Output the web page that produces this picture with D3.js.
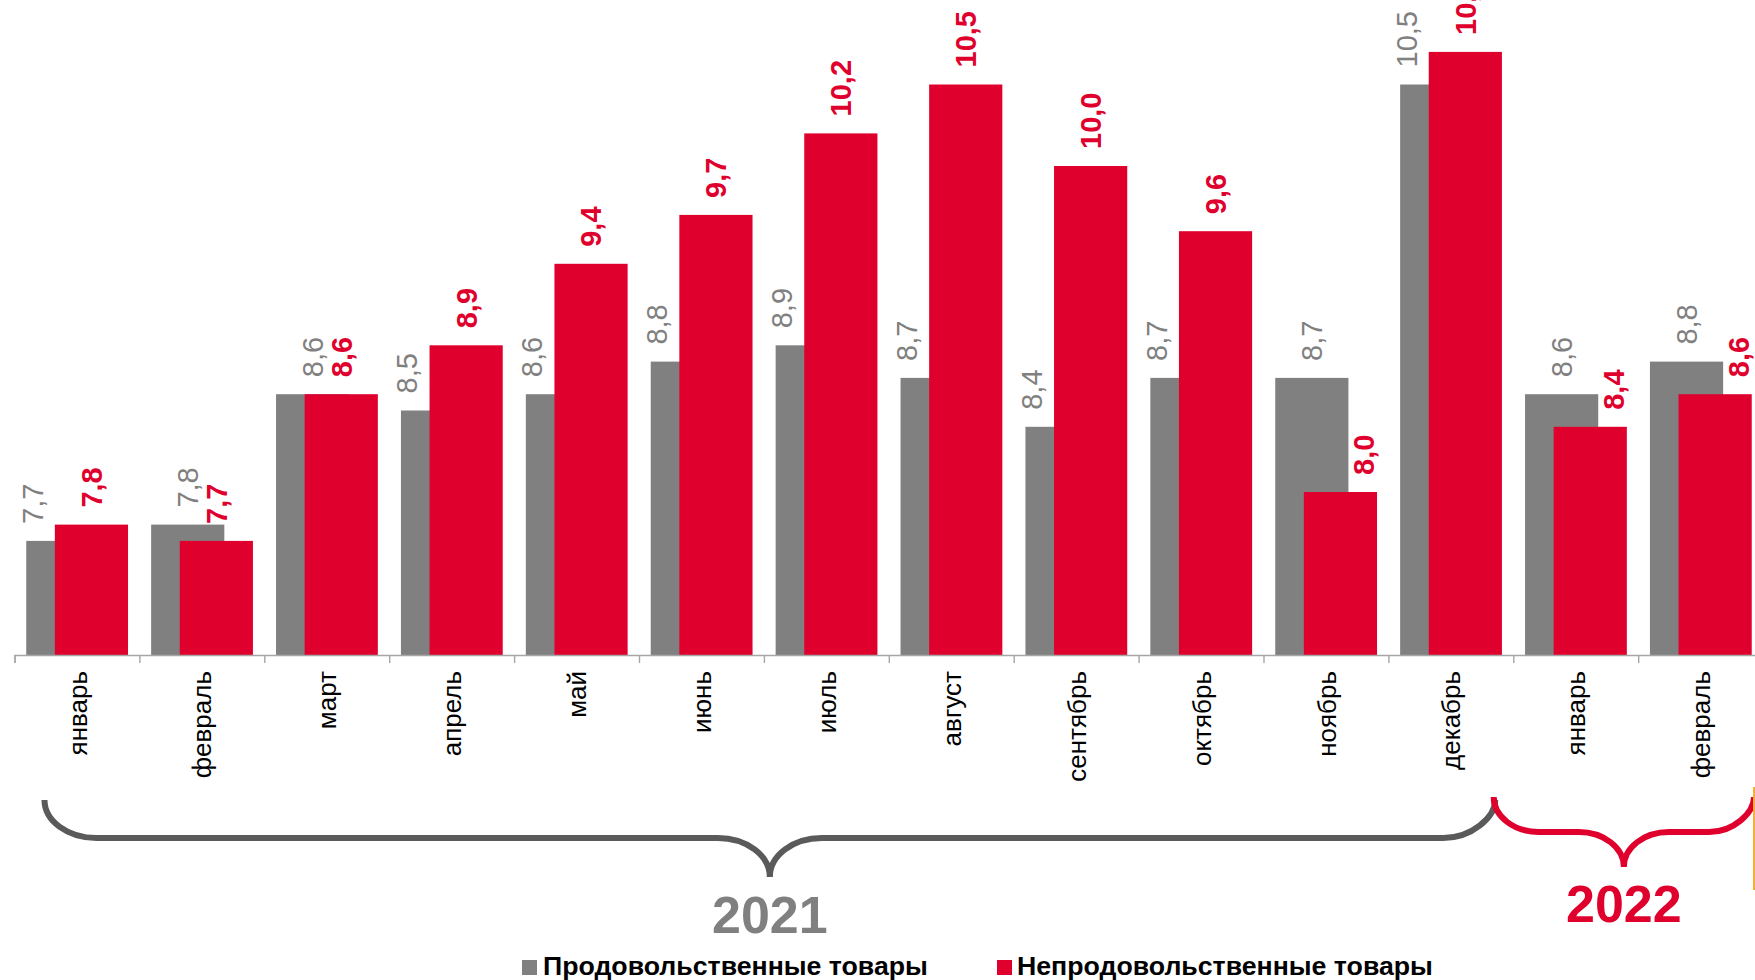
<!DOCTYPE html>
<html>
<head>
<meta charset="utf-8">
<script src="https://cdn.jsdelivr.net/npm/d3@7"></script>
<style>
  html, body { margin: 0; padding: 0; background: #ffffff; }
  svg { display: block; font-family: "Liberation Sans", Arial, sans-serif; }
</style>
</head>
<body>
<svg id="chart" width="1755" height="980"></svg>
<script>
// ---------- data ----------
const categories = ["январь", "февраль", "март", "апрель", "май", "июнь", "июль",
                    "август", "сентябрь", "октябрь", "ноябрь", "декабрь", "январь", "февраль"];
const foodValues    = [7.7, 7.8, 8.6, 8.5, 8.6, 8.8, 8.9, 8.7, 8.4, 8.7, 8.7, 10.5, 8.6, 8.8];
const nonFoodValues = [7.8, 7.7, 8.6, 8.9, 9.4, 9.7, 10.2, 10.5, 10.0, 9.6, 8.0, 10.7, 8.4, 8.6];
const seriesNames = ["Продовольственные товары", "Непродовольственные товары"];
const yearLabels = ["2021", "2022"];
const yearFirstIndex = [0, 12];
const yearLastIndex = [11, 13];

// ---------- setup ----------
const W = 1755, H = 980;
const GRAY = "#808080", RED = "#e0002d";
const svg = d3.select("#chart");

const x = d3.scaleBand()
  .domain(d3.range(categories.length))
  .range([14.5, 14.5 + 124.9 * categories.length])
  .padding(0);
const bw = x.bandwidth();
const y = d3.scaleLinear().domain([7, 11]).range([655, 3]);

const keys = ["food", "nonFood"];
const xOff = d3.scalePoint().domain(keys).range([0.094 * bw, 0.323 * bw]);
const barW = 0.586 * bw;

const rows = categories.map((c, i) => ({ i, food: foodValues[i], nonFood: nonFoodValues[i] }));

// ---------- bars ----------
svg.append("g").selectAll("rect").data(rows).join("rect")
  .attr("x", d => x(d.i) + xOff("food"))
  .attr("y", d => y(d.food))
  .attr("width", barW)
  .attr("height", d => y(7) - y(d.food))
  .attr("fill", GRAY);

svg.append("g").selectAll("rect").data(rows).join("rect")
  .attr("x", d => x(d.i) + xOff("nonFood"))
  .attr("y", d => y(d.nonFood))
  .attr("width", barW)
  .attr("height", d => y(7) - y(d.nonFood))
  .attr("fill", RED);

// ---------- axis ----------
const boundary = d3.scaleLinear().domain([0, categories.length]).range(x.range());
const axisG = svg.append("g").attr("transform", `translate(0,${y(7)})`)
  .call(d3.axisBottom(boundary).ticks(categories.length).tickFormat("").tickSizeOuter(0).tickSize(8));
axisG.selectAll("path, line").attr("stroke", "#a6a6a6").attr("stroke-width", 1.4);

const labelAxis = svg.append("g").attr("transform", `translate(0,${y(7)})`)
  .call(d3.axisBottom(x).tickSize(0).tickPadding(0).tickFormat(i => categories[i]));
labelAxis.select(".domain").remove();
labelAxis.selectAll("text")
  .attr("x", 0).attr("y", 0).attr("dy", "0.37em")
  .attr("transform", "translate(0,16) rotate(-90)")
  .attr("text-anchor", "end")
  .attr("fill", "#000")
  .style("font-size", "26px");

// ---------- value labels ----------
const fmt = v => v.toFixed(1).replace(".", ",");
const GAP = 17;

svg.append("g").selectAll("text").data(rows).join("text")
  .attr("transform", d => {
    const left = x(d.i) + xOff("food");
    const cx = d.nonFood > d.food ? left + 6 : left + barW / 2;
    return `translate(${cx},${y(d.food) - GAP}) rotate(-90)`;
  })
  .attr("dy", "0.36em")
  .attr("text-anchor", "start")
  .attr("fill", GRAY)
  .style("font-size", "29px")
  .text(d => fmt(d.food));

svg.append("g").selectAll("text").data(rows).join("text")
  .attr("transform", d => {
    const left = x(d.i) + xOff("nonFood");
    const overlaps = y(d.nonFood) - GAP > y(d.food) + 0.5;
    const cx = overlaps ? left + barW - 13 : left + barW / 2;
    return `translate(${cx},${y(d.nonFood) - GAP}) rotate(-90)`;
  })
  .attr("dy", "0.36em")
  .attr("text-anchor", "start")
  .attr("fill", RED)
  .style("font-size", "29px")
  .style("font-weight", "bold")
  .text(d => fmt(d.nonFood));

// ---------- year braces ----------
function bracePath(x0, x1, yTop, yH, yTip, r) {
  const k = 0.552, xm = (x0 + x1) / 2;
  return `M${x0},${yTop}` +
    `C${x0},${yTop + k * (yH - yTop)} ${x0 + r - k * r},${yH} ${x0 + r},${yH}` +
    `L${xm - r},${yH}` +
    `C${xm - r + k * r},${yH} ${xm},${yTip - k * (yTip - yH)} ${xm},${yTip}` +
    `C${xm},${yTip - k * (yTip - yH)} ${xm + r - k * r},${yH} ${xm + r},${yH}` +
    `L${x1 - r},${yH}` +
    `C${x1 - r + k * r},${yH} ${x1},${yH - k * (yH - yTop)} ${x1},${yTop}`;
}

const b0 = x(yearFirstIndex[0]) + 0.24 * bw;
const b1 = x(yearLastIndex[0]) + bw - 0.145 * bw;
const b2 = W - 1;

const braces = [
  { x0: b0, x1: b1, yTop: 800, yH: 838, yTip: 877, r: 52, color: "#5a5a5a", label: yearLabels[0], textColor: GRAY, base: 933 },
  { x0: b1 - 1.5, x1: b2, yTop: 797, yH: 832, yTip: 867, r: 45, color: RED, label: yearLabels[1], textColor: RED, base: 922 }
];

svg.append("g").selectAll("path").data(braces).join("path")
  .attr("d", d => bracePath(d.x0, d.x1, d.yTop, d.yH, d.yTip, d.r))
  .attr("fill", "none")
  .attr("stroke", d => d.color)
  .attr("stroke-width", 6);

svg.append("g").selectAll("text").data(braces).join("text")
  .attr("x", d => (d.x0 + d.x1) / 2)
  .attr("y", d => d.base)
  .attr("text-anchor", "middle")
  .attr("fill", d => d.textColor)
  .style("font-size", "52px")
  .style("font-weight", "bold")
  .text(d => d.label);

// thin decorative edge line at right
svg.append("line")
  .attr("x1", W - 1).attr("x2", W - 1).attr("y1", 787).attr("y2", 890)
  .attr("stroke", "#f2b134").attr("stroke-width", 2);

// ---------- legend ----------
const legend = [
  { name: seriesNames[0], color: GRAY, sx: 522, tx: 543 },
  { name: seriesNames[1], color: RED, sx: 997, tx: 1017 }
];
const lg = svg.append("g").selectAll("g").data(legend).join("g");
lg.append("rect")
  .attr("x", d => d.sx).attr("y", 960).attr("width", 15).attr("height", 15)
  .attr("fill", d => d.color);
lg.append("text")
  .attr("x", d => d.tx).attr("y", 975)
  .attr("fill", "#000")
  .style("font-size", "26.7px")
  .style("font-weight", "bold")
  .text(d => d.name);
</script>
</body>
</html>
